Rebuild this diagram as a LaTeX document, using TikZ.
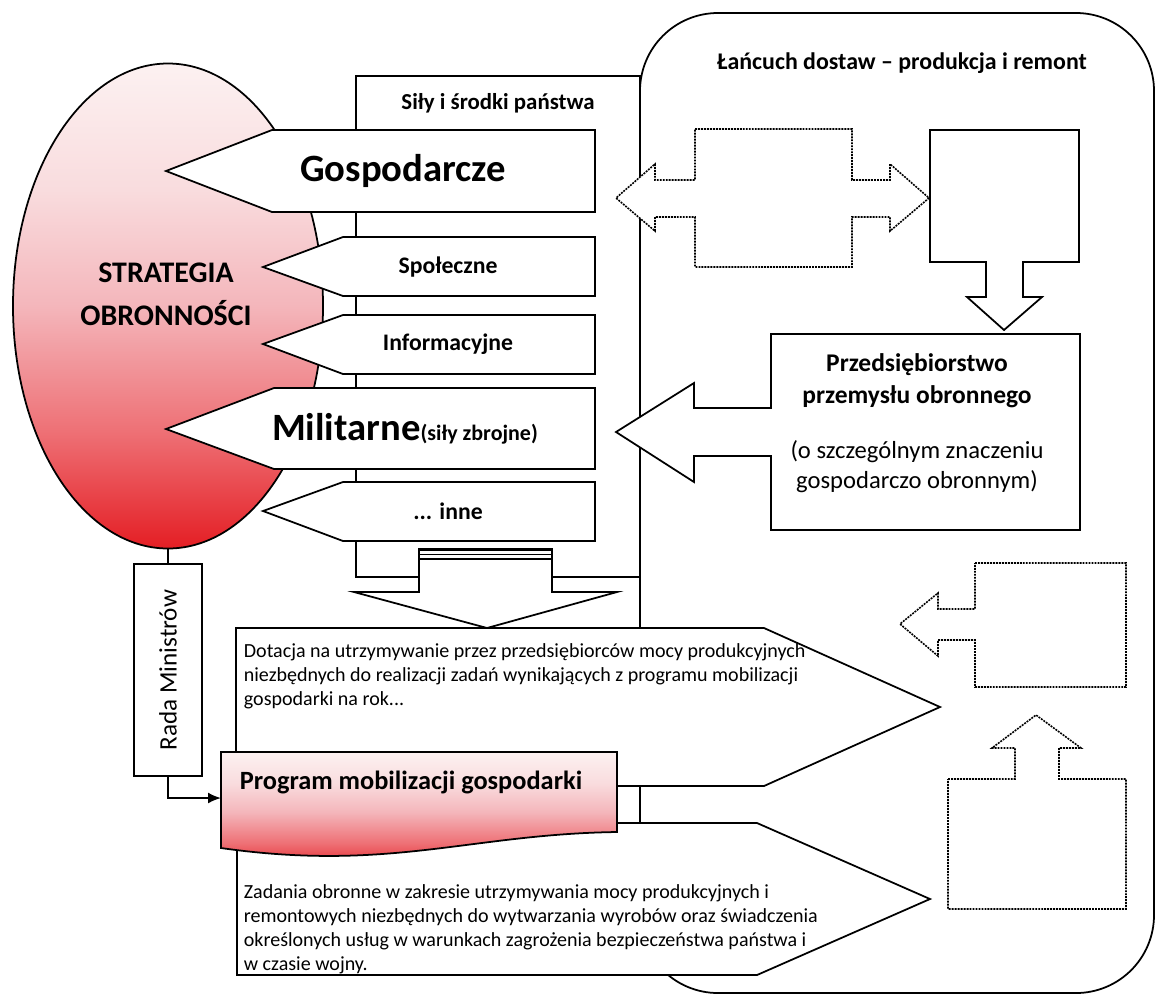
\documentclass[tikz,border=0pt]{standalone}
\usepackage{fontspec}
\setmainfont{Carlito}
\usepackage{xcolor}
\usetikzlibrary{shapes.geometric, arrows.meta, positioning}

\definecolor{deepred}{RGB}{228,30,36}
\definecolor{midred}{RGB}{238,112,117}
\definecolor{lightred}{RGB}{244,182,187}
\definecolor{paler}{RGB}{249,220,222}
\definecolor{palest}{RGB}{252,241,241}
\pgfdeclareverticalshading{redfade}{100bp}{color(0bp)=(deepred); color(25bp)=(deepred); color(37bp)=(midred); color(50bp)=(lightred); color(62bp)=(paler); color(75bp)=(palest); color(100bp)=(palest)}

\begin{document}
\begin{tikzpicture}[x=0.2mm, y=-0.2mm, line width=1pt,
  outline/.style={draw=black, fill=white, line width=1pt},
  dotline/.style={draw=black, fill=white, line width=0.9pt, dash pattern=on 1.1pt off 0.6pt},
  headtxt/.style={font=\fontsize{13}{15}\selectfont\bfseries},
  bigtxt/.style={font=\fontsize{22}{26}\selectfont\bfseries},
  smalltxt/.style={font=\fontsize{13.5}{16}\selectfont\bfseries},
  bodytxt/.style={font=\fontsize{11.4}{13.6}\selectfont, align=left, anchor=north west, inner sep=0pt}]

\useasboundingbox (0,0) rectangle (1155,995);

% Frames
\draw[outline, rounded corners=15.6mm] (640,13) rectangle (1154,993);
\draw[outline] (356,76) rectangle (640,577);
\node (sily) [headtxt] at (498,103) {Siły i środki państwa};
\node (lancuch) [headtxt, font=\fontsize{13.6}{16}\selectfont\bfseries] at (902,63) {Łańcuch dostaw – produkcja i remont};

% Strategy
\node (strat) [ellipse, draw, line width=1pt, shading=redfade, minimum width=62mm, minimum height=97mm, inner sep=0pt] at (168,306) {};
\node (stratlbl) [font=\fontsize{17}{24.5}\selectfont\bfseries, align=center] at (166,294) {STRATEGIA\\OBRONNOŚCI};

% Pointers
\draw[outline] (595,130) -- (272,130) -- (166,171) -- (272,212) -- (595,212) -- cycle;
\node (gosp) [bigtxt] at (403,171) {Gospodarcze};

\draw[outline] (595,237) -- (343,237) -- (263,267) -- (343,296) -- (595,296) -- cycle;
\node (spol) [smalltxt] at (448,267) {Społeczne};

\draw[outline] (595,315) -- (343,315) -- (263,344) -- (343,374) -- (595,374) -- cycle;
\node (info) [smalltxt] at (448,344) {Informacyjne};

\draw[outline] (595,388) -- (274,388) -- (166,429) -- (274,469) -- (595,469) -- cycle;
\node (milit) [bigtxt] at (405,429) {Militarne{\fontsize{12.5}{15}\selectfont(siły zbrojne)}};

\draw[outline] (595,482) -- (343,482) -- (263,511) -- (343,541) -- (595,541) -- cycle;
\node (inne) [smalltxt] at (448,511) {... inne};

% Down arrow
\draw[outline] (419,549) -- (552,549) -- (552,592) -- (617,592) -- (487,628) -- (354,592) -- (419,592) -- cycle;
\draw[line width=1.8pt] (419,549.5) -- (552,549.5);
\draw[line width=0.8pt] (419,554.5) -- (552,554.5) (419,559) -- (552,559);

% Dotacja and Zadania
\draw[outline] (236,628) -- (764,628) -- (940,707) -- (764,786) -- (236,786) -- cycle;
\node (dotacja) [bodytxt] at (243,643) {Dotacja na utrzymywanie przez przedsiębiorców mocy produkcyjnych\\niezbędnych do realizacji zadań wynikających z programu mobilizacji\\gospodarki na rok...};

\draw[outline] (237,823) -- (757,823) -- (930,899) -- (757,975) -- (237,975) -- cycle;
\node (zadania) [bodytxt] at (243,884) {Zadania obronne w zakresie utrzymywania mocy produkcyjnych i\\remontowych niezbędnych do wytwarzania wyrobów oraz świadczenia\\określonych usług w warunkach zagrożenia bezpieczeństwa państwa i\\w czasie wojny.};

% Program
\path[draw=black, line width=1pt, shading=redfade] (221,752) -- (617,752) -- (617,832) .. controls (470,834) and (390,872) .. (221,848) -- cycle;
\node (program) [font=\fontsize{15}{18}\selectfont\bfseries] at (411,782) {Program mobilizacji gospodarki};
\coordinate (progin) at (221,798);

% Rada Ministrow
\node (rada) [draw, fill=white, line width=1pt, rotate=90, minimum width=42.4mm, minimum height=13.6mm, inner sep=0pt, font=\fontsize{14.3}{17}\selectfont] at (168,670) {Rada Ministrów};
\draw (strat.south) -- (rada.east);
\draw[-{Latex[length=2.6mm, width=2.2mm]}] (rada.west) |- (progin);

% Supply chain
\draw[dotline] (695,129) -- (852,129) -- (852,180) -- (890,180) -- (890,164) -- (929,198) -- (890,231) -- (890,217) -- (852,217) -- (852,267) -- (695,267) -- (695,217) -- (655,217) -- (655,231) -- (616,198) -- (655,164) -- (655,180) -- (695,180) -- cycle;

\draw[outline] (930,130) -- (1079,130) -- (1079,262) -- (1023,262) -- (1023,297) -- (1042,297) -- (1004,330) -- (967,297) -- (986,297) -- (986,262) -- (930,262) -- cycle;

\draw[outline] (771,334) -- (1080,334) -- (1080,530) -- (771,530) -- (771,456) -- (694,456) -- (694,482) -- (616,432) -- (694,383) -- (694,408) -- (771,408) -- cycle;
\node (przeds) [font=\fontsize{14.5}{18}\selectfont\bfseries, align=center] at (917,381) {Przedsiębiorstwo\\przemysłu obronnego};
\node (przedsnote) [font=\fontsize{14}{17}\selectfont, align=center] at (917,467) {(o szczególnym znaczeniu\\gospodarczo obronnym)};

\draw[dotline] (975,563) -- (1126,563) -- (1126,687) -- (975,687) -- (975,640) -- (938,640) -- (938,656) -- (900,624) -- (938,593) -- (938,609) -- (975,609) -- cycle;

\draw[dotline] (948,779) -- (1015,779) -- (1015,748) -- (992,748) -- (1036,715) -- (1081,748) -- (1059,748) -- (1059,779) -- (1126,779) -- (1126,909) -- (948,909) -- cycle;

\end{tikzpicture}
\end{document}
